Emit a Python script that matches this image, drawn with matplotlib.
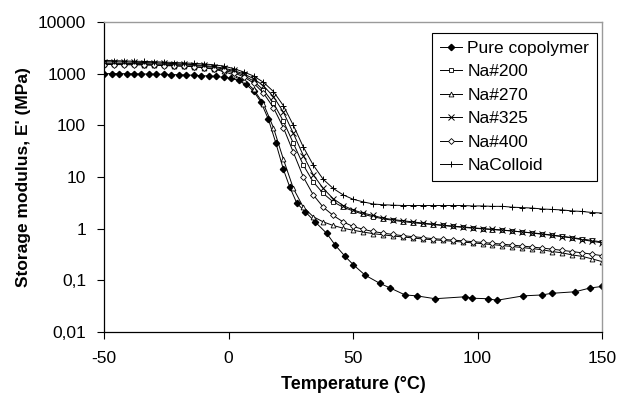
import numpy as np
import matplotlib
matplotlib.use('Agg')
import matplotlib.pyplot as plt
from matplotlib.ticker import FixedLocator, NullLocator

plt.rcParams['font.family'] = ['Liberation Sans', 'DejaVu Sans']

# Temperature grid shared by the filled samples (deg C)
temp = [-50, -46, -42, -38, -34, -30, -26, -22, -18, -14, -10, -6, -2, 2, 6, 10, 14, 18,
        22, 26, 30, 34, 38, 42, 46, 50, 54, 58, 62, 66, 70, 74, 78, 82, 86, 90, 94, 98,
        102, 106, 110, 114, 118, 122, 126, 130, 134, 138, 142, 146, 150]

na200 = [1600, 1590, 1580, 1570, 1560, 1540, 1520, 1500, 1470, 1440, 1390, 1320, 1230, 1100,
         930, 720, 480, 270, 120, 45, 17, 8, 4.8, 3.3, 2.6, 2.2, 1.9, 1.7, 1.55, 1.45, 1.37,
         1.3, 1.25, 1.2, 1.15, 1.1, 1.06, 1.02, 0.99, 0.96, 0.93, 0.9, 0.86, 0.83, 0.79, 0.75,
         0.71, 0.67, 0.63, 0.59, 0.55]
na270 = [1550, 1540, 1530, 1520, 1500, 1480, 1460, 1430, 1400, 1360, 1300, 1220, 1100, 950,
         740, 500, 260, 90, 22, 6, 2.6, 1.7, 1.35, 1.15, 1.02, 0.93, 0.86, 0.8, 0.76, 0.72,
         0.69, 0.66, 0.63, 0.61, 0.59, 0.57, 0.55, 0.53, 0.51, 0.49, 0.47, 0.45, 0.43, 0.41,
         0.39, 0.36, 0.34, 0.31, 0.29, 0.26, 0.23]
na325 = [1700, 1690, 1680, 1660, 1640, 1620, 1590, 1560, 1530, 1490, 1440, 1370, 1280, 1150,
         990, 800, 580, 360, 180, 70, 26, 11, 6, 3.8, 2.8, 2.3, 2.0, 1.8, 1.6, 1.5, 1.42,
         1.35, 1.28, 1.22, 1.17, 1.12, 1.08, 1.04, 1.0, 0.97, 0.94, 0.9, 0.86, 0.82, 0.78,
         0.74, 0.7, 0.66, 0.61, 0.57, 0.53]
na400 = [1500, 1500, 1490, 1480, 1470, 1450, 1430, 1410, 1390, 1360, 1310, 1250, 1160, 1040,
         870, 660, 420, 220, 90, 30, 10, 4.5, 2.6, 1.8, 1.35, 1.1, 0.97, 0.88, 0.82, 0.77,
         0.73, 0.7, 0.67, 0.64, 0.62, 0.6, 0.58, 0.56, 0.54, 0.52, 0.5, 0.48, 0.46, 0.44,
         0.42, 0.4, 0.38, 0.36, 0.34, 0.32, 0.3]
nacolloid = [1800, 1780, 1760, 1740, 1720, 1700, 1670, 1640, 1610, 1580, 1540, 1480, 1400,
             1250, 1080, 900, 680, 450, 240, 100, 38, 17, 9, 6, 4.5, 3.7, 3.3, 3.0, 2.9, 2.85,
             2.8, 2.8, 2.8, 2.8, 2.8, 2.8, 2.8, 2.75, 2.75, 2.7, 2.7, 2.6, 2.55, 2.5, 2.4,
             2.35, 2.3, 2.2, 2.15, 2.05, 2.0]

# Unfilled copolymer has its own (irregular) temperature points
temp_pure = [-50, -47, -44, -41, -38, -35, -32, -29, -26, -23, -20, -17, -14, -11, -8, -5,
             -2, 1, 4, 7, 10, 13, 16, 19, 22, 24.5, 27.4, 30.7, 34.7, 39.4, 42.8, 46.8, 50.1,
             54.8, 60.8, 64.9, 70.9, 75.6, 82.9, 95.0, 97.7, 104.3, 107.7, 118.4, 125.8,
             129.8, 139.2, 145.2, 149.9]
pure = [1000, 1000, 1000, 995, 990, 985, 980, 975, 970, 960, 950, 940, 930, 915, 900, 880,
        850, 810, 740, 620, 460, 280, 130, 45, 14, 6.5, 3.1, 2.14, 1.36, 0.81, 0.48, 0.29,
        0.2, 0.126, 0.087, 0.071, 0.052, 0.05, 0.044, 0.048, 0.045, 0.044, 0.041, 0.05,
        0.052, 0.056, 0.06, 0.071, 0.076]

y_ticks = [0.01, 0.1, 1, 10, 100, 1000, 10000]
y_labels = ['0,01', '0,1', '1', '10', '100', '1000', '10000']
x_ticks = [-50, 0, 50, 100, 150]

fig = plt.figure(figsize=(6.2, 3.99), dpi=100)
ax = fig.add_axes([0.168, 0.168, 0.803, 0.777])

lw = 0.7
ax.plot(temp_pure, pure, '-', color='black', lw=lw, marker='D', ms=3.2,
        mfc='black', mec='black', label='Pure copolymer')
ax.plot(temp, na200, '-', color='black', lw=lw, marker='s', ms=3.5,
        mfc='white', mec='black', mew=0.6, label='Na#200')
ax.plot(temp, na270, '-', color='black', lw=lw, marker='^', ms=3.5,
        mfc='white', mec='black', mew=0.6, label='Na#270')
ax.plot(temp, na325, '-', color='black', lw=lw, marker='x', ms=3.8,
        mec='black', mew=0.7, label='Na#325')
ax.plot(temp, na400, '-', color='black', lw=lw, marker='D', ms=3.0,
        mfc='white', mec='black', mew=0.6, label='Na#400')
ax.plot(temp, nacolloid, '-', color='black', lw=lw, marker='+', ms=5,
        mec='black', mew=0.7, label='NaColloid')

ax.set_yscale('log')
ax.set_ylim(0.01, 10000)
ax.set_xlim(-50, 150)
ax.yaxis.set_major_locator(FixedLocator(y_ticks))
ax.yaxis.set_minor_locator(NullLocator())
ax.set_yticklabels(y_labels)
ax.set_xticks(x_ticks)
ax.set_xticklabels(['-50', '0', '50', '100', '150'])

ax.tick_params(axis='both', direction='out', length=5, width=0.8, labelsize=12.5,
               colors='black', pad=8)
ax.tick_params(axis='x', pad=9)
for side in ['top', 'right']:
    ax.spines[side].set_color('#9a9a9a')
    ax.spines[side].set_linewidth(1.0)
for side in ['left', 'bottom']:
    ax.spines[side].set_color('black')
    ax.spines[side].set_linewidth(0.9)

ax.set_xlabel('Temperature (°C)', fontsize=13, fontweight='bold', labelpad=7)
ax.set_ylabel("Storage modulus, E' (MPa)", fontsize=12.5, fontweight='bold', labelpad=5)

leg = ax.legend(loc='upper right', bbox_to_anchor=(0.99, 0.965), fontsize=12.5,
                frameon=True, fancybox=False, edgecolor='black', framealpha=1,
                handlelength=1.3, handletextpad=0.3, labelspacing=0.48,
                borderpad=0.45, borderaxespad=0)
leg.get_frame().set_linewidth(0.8)

fig.savefig('out.png', dpi=100)
